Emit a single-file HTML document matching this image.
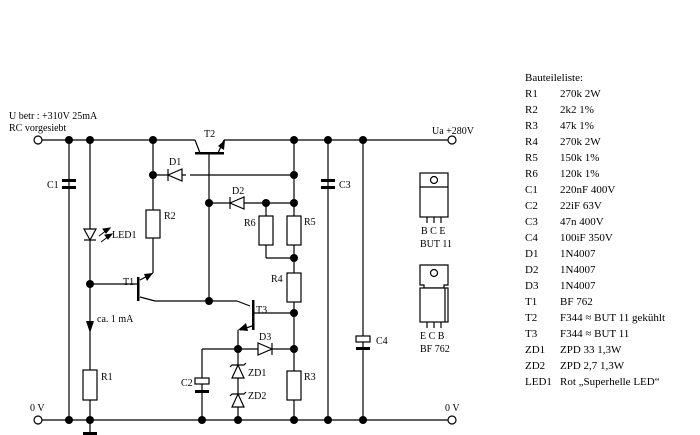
<!DOCTYPE html>
<html><head><meta charset="utf-8"><style>
html,body{margin:0;padding:0;background:#fff}
svg{display:block}
text{font-family:"Liberation Serif",serif;font-size:10px;fill:#000}
.l text{font-size:11px}
</style></head><body>
<svg width="700" height="435" viewBox="0 0 700 435" xmlns="http://www.w3.org/2000/svg">
<g stroke="#000" stroke-width="1.2" fill="none">
<line x1="42" y1="140" x2="195" y2="140"/>
<line x1="224" y1="140" x2="448" y2="140"/>
<line x1="42" y1="420" x2="448" y2="420"/>
<circle cx="38" cy="140" r="4" fill="#fff"/>
<circle cx="38" cy="420" r="4" fill="#fff"/>
<circle cx="452" cy="140" r="4" fill="#fff"/>
<circle cx="452" cy="420" r="4" fill="#fff"/>
<line x1="69" y1="140" x2="69" y2="420"/>
<line x1="90" y1="140" x2="90" y2="433"/>
<line x1="153" y1="140" x2="153" y2="273"/>
<line x1="90" y1="284" x2="137" y2="284"/>
<line x1="140" y1="280" x2="153" y2="273"/>
<line x1="140" y1="297" x2="155" y2="301"/>
<line x1="155" y1="301" x2="237" y2="301"/>
<line x1="195" y1="140" x2="200" y2="153"/>
<line x1="218" y1="153" x2="224" y2="140"/>
<line x1="209" y1="153" x2="209" y2="301"/>
<line x1="153" y1="175" x2="186" y2="175"/>
<line x1="190" y1="175" x2="294" y2="175"/>
<line x1="209" y1="203" x2="294" y2="203"/>
<line x1="294" y1="140" x2="294" y2="420"/>
<line x1="266" y1="203" x2="266" y2="258"/>
<line x1="266" y1="258" x2="294" y2="258"/>
<line x1="237" y1="301" x2="250" y2="306"/>
<line x1="254" y1="313" x2="294" y2="313"/>
<line x1="252" y1="326" x2="240" y2="330"/>
<line x1="238" y1="330" x2="238" y2="420"/>
<line x1="202" y1="349" x2="294" y2="349"/>
<line x1="202" y1="349" x2="202" y2="420"/>
<line x1="328" y1="140" x2="328" y2="420"/>
<line x1="363" y1="140" x2="363" y2="420"/>
</g>
<g stroke="#000" stroke-width="1.2" fill="#fff">
<rect x="83" y="370" width="14" height="30"/>
<rect x="146" y="210" width="14" height="28"/>
<rect x="259" y="216" width="14" height="29"/>
<rect x="287" y="216" width="14" height="29"/>
<rect x="287" y="273" width="14" height="29"/>
<rect x="287" y="371" width="14" height="29"/>
<rect x="195" y="378" width="14" height="6"/>
<rect x="356" y="336" width="14" height="6"/>
</g>
<g fill="#000">
<rect x="62" y="179" width="14" height="3"/>
<rect x="62" y="186" width="14" height="3"/>
<rect x="321" y="179" width="14" height="3"/>
<rect x="321" y="186" width="14" height="3"/>
<rect x="195" y="390" width="14" height="3"/>
<rect x="356" y="347" width="14" height="3"/>
<rect x="83" y="432" width="14" height="3"/>
<rect x="137" y="277" width="2.5" height="24"/>
<rect x="195" y="152" width="29" height="2.5"/>
<rect x="252" y="300" width="2.5" height="30"/>
<polygon points="153,273 144,274 147,281"/>
<polygon points="225,140 218,146 224,150"/>
<polygon points="238,330 246,323 248,331"/>
<polygon points="90,333 86,321 94,321"/>
<g>
<circle cx="69" cy="140" r="4"/><circle cx="90" cy="140" r="4"/><circle cx="153" cy="140" r="4"/>
<circle cx="294" cy="140" r="4"/><circle cx="328" cy="140" r="4"/><circle cx="363" cy="140" r="4"/>
<circle cx="69" cy="420" r="4"/><circle cx="90" cy="420" r="4"/><circle cx="202" cy="420" r="4"/>
<circle cx="238" cy="420" r="4"/><circle cx="294" cy="420" r="4"/><circle cx="328" cy="420" r="4"/><circle cx="363" cy="420" r="4"/>
<circle cx="90" cy="284" r="4"/><circle cx="153" cy="175" r="4"/><circle cx="294" cy="175" r="4"/>
<circle cx="209" cy="203" r="4"/><circle cx="266" cy="203" r="4"/><circle cx="294" cy="203" r="4"/>
<circle cx="294" cy="258" r="4"/><circle cx="209" cy="301" r="4"/><circle cx="294" cy="313" r="4"/>
<circle cx="238" cy="349" r="4"/><circle cx="294" cy="349" r="4"/>
</g>
</g>
<g stroke="#000" stroke-width="1.2" fill="#fff">
<polygon points="168,175 182,169 182,181"/><line x1="168" y1="169" x2="168" y2="181"/>
<polygon points="230,203 244,197 244,209"/><line x1="230" y1="197" x2="230" y2="209"/>
<polygon points="272,349 258,343 258,355"/><line x1="272" y1="343" x2="272" y2="355"/>
<polygon points="90,240 84,229 96,229"/><line x1="84" y1="240" x2="96" y2="240"/>
<polygon points="238,365 232,378 244,378"/><polyline points="230,367 232,365 244,365 246,363" fill="none"/>
<polygon points="238,394 232,407 244,407"/><polyline points="230,396 232,394 244,394 246,392" fill="none"/>
</g>
<g stroke="#000" fill="#000">
<line x1="99" y1="236" x2="107" y2="230"/><polygon points="110,228 103,229 106,233"/>
<line x1="101" y1="242" x2="109" y2="236"/><polygon points="112,234 105,235 108,239"/>
</g>
<g stroke="#000" stroke-width="1.2" fill="#fff">
<rect x="420" y="173" width="28" height="44"/><line x1="420" y1="187" x2="448" y2="187"/>
<circle cx="434" cy="180" r="3.5"/>
<line x1="427" y1="217" x2="427" y2="223"/><line x1="434" y1="217" x2="434" y2="223"/><line x1="441" y1="217" x2="441" y2="223"/>
<path d="M420,265 h28 v20 h-4 v3 h-20 v-3 h-4 z"/>
<circle cx="434" cy="273" r="3.5"/>
<rect x="420" y="288" width="28" height="34"/><line x1="445" y1="288" x2="445" y2="322"/>
<line x1="427" y1="322" x2="427" y2="328"/><line x1="434" y1="322" x2="434" y2="328"/><line x1="441" y1="322" x2="441" y2="328"/>
</g>
<text x="9" y="119">U betr : +310V   25mA</text>
<text x="9" y="131">RC vorgesiebt</text>
<text x="30" y="411">0 V</text>
<text x="445" y="411">0 V</text>
<text x="432" y="134">Ua  +280V</text>
<text x="47" y="188">C1</text>
<text x="112" y="238">LED1</text>
<text x="164" y="219">R2</text>
<text x="123" y="285">T1</text>
<text x="97" y="322">ca. 1 mA</text>
<text x="101" y="380">R1</text>
<text x="204" y="137">T2</text>
<text x="169" y="165">D1</text>
<text x="232" y="194">D2</text>
<text x="244" y="226">R6</text>
<text x="304" y="225">R5</text>
<text x="271" y="282">R4</text>
<text x="256" y="313">T3</text>
<text x="259" y="340">D3</text>
<text x="248" y="376">ZD1</text>
<text x="248" y="399">ZD2</text>
<text x="304" y="380">R3</text>
<text x="181" y="386">C2</text>
<text x="339" y="188">C3</text>
<text x="376" y="344">C4</text>
<text x="421" y="234" font-size="9.5">B C E</text>
<text x="420" y="247" font-size="9.5">BUT 11</text>
<text x="420" y="339" font-size="9.5">E C B</text>
<text x="420" y="352" font-size="9.5">BF 762</text>
<g class="l">
<text x="525" y="81">Bauteileliste:</text>
<text x="525" y="97">R1</text><text x="560" y="97">270k 2W</text>
<text x="525" y="113">R2</text><text x="560" y="113">2k2 1%</text>
<text x="525" y="129">R3</text><text x="560" y="129">47k 1%</text>
<text x="525" y="145">R4</text><text x="560" y="145">270k 2W</text>
<text x="525" y="161">R5</text><text x="560" y="161">150k 1%</text>
<text x="525" y="177">R6</text><text x="560" y="177">120k 1%</text>
<text x="525" y="193">C1</text><text x="560" y="193">220nF 400V</text>
<text x="525" y="209">C2</text><text x="560" y="209">22iF 63V</text>
<text x="525" y="225">C3</text><text x="560" y="225">47n 400V</text>
<text x="525" y="241">C4</text><text x="560" y="241">100iF 350V</text>
<text x="525" y="257">D1</text><text x="560" y="257">1N4007</text>
<text x="525" y="273">D2</text><text x="560" y="273">1N4007</text>
<text x="525" y="289">D3</text><text x="560" y="289">1N4007</text>
<text x="525" y="305">T1</text><text x="560" y="305">BF 762</text>
<text x="525" y="321">T2</text><text x="560" y="321">F344 ≈ BUT 11 gekühlt</text>
<text x="525" y="337">T3</text><text x="560" y="337">F344 ≈ BUT 11</text>
<text x="525" y="353">ZD1</text><text x="560" y="353">ZPD 33  1,3W</text>
<text x="525" y="369">ZD2</text><text x="560" y="369">ZPD 2,7  1,3W</text>
<text x="525" y="385">LED1</text><text x="560" y="385">Rot „Superhelle LED“</text>
</g>
</svg>
</body></html>
